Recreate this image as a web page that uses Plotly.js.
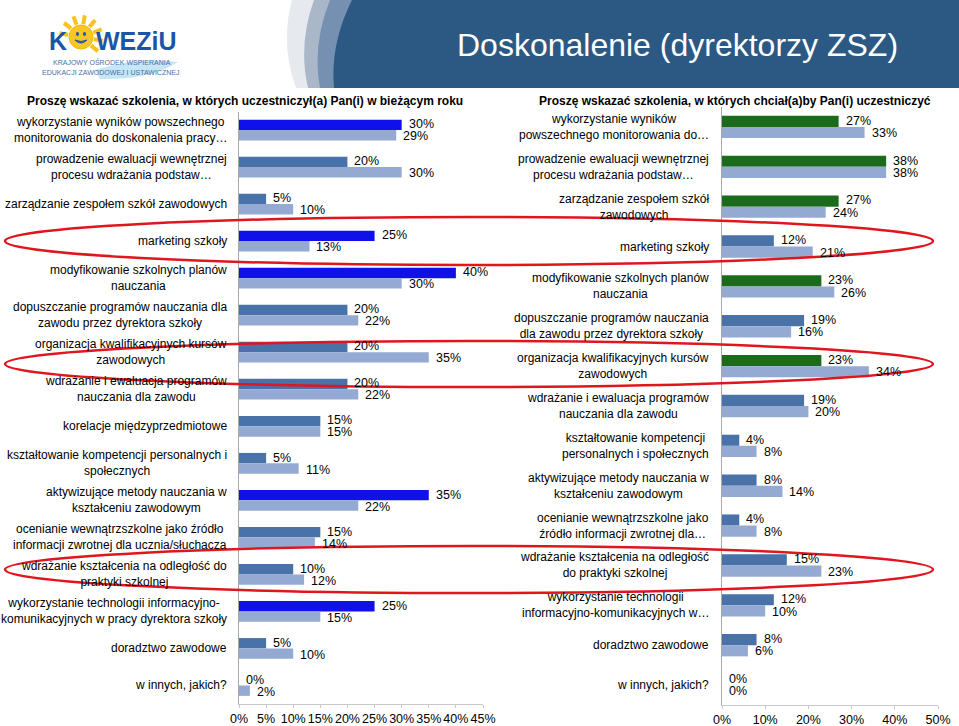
<!DOCTYPE html>
<html>
<head>
<meta charset="utf-8">
<script src="https://cdn.plot.ly/plotly-3.0.1.min.js"></script>
<style>
  html, body { margin: 0; padding: 0; background: #ffffff; }
  #chart { width: 959px; height: 726px; }
</style>
</head>
<body>
<div id="chart"></div>
<script>
// ---------- DATA ----------
const leftLabels = [
  "wykorzystanie wyników powszechnego<br>monitorowania do doskonalenia pracy…",
  "prowadzenie ewaluacji wewnętrznej<br>procesu wdrażania podstaw…",
  "zarządzanie zespołem szkół zawodowych",
  "marketing szkoły",
  "modyfikowanie szkolnych planów<br>nauczania",
  "dopuszczanie programów nauczania dla<br>zawodu przez dyrektora szkoły",
  "organizacja kwalifikacyjnych kursów<br>zawodowych",
  "wdrażanie i ewaluacja programów<br>nauczania dla zawodu",
  "korelacje międzyprzedmiotowe",
  "kształtowanie kompetencji personalnych i<br>społecznych",
  "aktywizujące metody nauczania w<br>kształceniu zawodowym",
  "ocenianie wewnątrzszkolne jako źródło<br>informacji zwrotnej dla ucznia/słuchacza",
  "wdrażanie kształcenia na odległość do<br>praktyki szkolnej",
  "wykorzystanie technologii informacyjno-<br>komunikacyjnych w pracy dyrektora szkoły",
  "doradztwo zawodowe",
  "w innych, jakich?"
];
const leftZSZ   = [30, 20, 5, 25, 40, 20, 20, 20, 15, 5, 35, 15, 10, 25, 5, 0];
const leftAll   = [29, 30, 10, 13, 30, 22, 35, 22, 15, 11, 22, 14, 12, 15, 10, 2];

const rightLabels = [
  "wykorzystanie wyników<br>powszechnego monitorowania do…",
  "prowadzenie ewaluacji wewnętrznej<br>procesu wdrażania podstaw…",
  "zarządzanie zespołem szkół<br>zawodowych",
  "marketing szkoły",
  "modyfikowanie szkolnych planów<br>nauczania",
  "dopuszczanie programów nauczania<br>dla zawodu przez dyrektora szkoły",
  "organizacja kwalifikacyjnych kursów<br>zawodowych",
  "wdrażanie i ewaluacja programów<br>nauczania dla zawodu",
  "kształtowanie kompetencji<br>personalnych i społecznych",
  "aktywizujące metody nauczania w<br>kształceniu zawodowym",
  "ocenianie wewnątrzszkolne jako<br>źródło informacji zwrotnej dla…",
  "wdrażanie kształcenia na odległość<br>do praktyki szkolnej",
  "wykorzystanie technologii<br>informacyjno-komunikacyjnych w…",
  "doradztwo zawodowe",
  "w innych, jakich?"
];
const rightZSZ  = [27, 38, 27, 12, 23, 19, 23, 19, 4, 8, 4, 15, 12, 8, 0];
const rightAll  = [33, 38, 24, 21, 26, 16, 34, 20, 8, 14, 8, 23, 10, 6, 0];

const leftTitle  = "Proszę wskazać szkolenia, w których uczestniczył(a) Pan(i) w bieżącym roku";
const rightTitle = "Proszę wskazać szkolenia, w których chciał(a)by Pan(i) uczestniczyć";
const mainTitle  = "Doskonalenie (dyrektorzy ZSZ)";

// ---------- STYLE ----------
const BRIGHT = "#1010EA", STEEL = "#4872A8", LIGHT = "#95AAD3", GREEN = "#1C6B1C";
const leftHighlight  = [1,0,0,1,1,0,0,0,0,0,1,0,0,1,0,0];
const rightHighlight = [1,1,1,0,1,0,1,0,0,0,0,0,0,0,0];
const W = 959, H = 726;
const px = x => x / W;
const py = y => 1 - y / H;
const FONT = "Arial, 'Liberation Sans', sans-serif";

const leftCats  = leftLabels.map(s => s.replace("<br>", " "));
const rightCats = rightLabels.map(s => s.replace("<br>", " "));

function barTrace(x, y, colors, xa, ya, name) {
  return {
    type: "bar", orientation: "h", x: x, y: y, name: name,
    xaxis: xa, yaxis: ya,
    marker: { color: colors, line: { width: 0 } },
    hoverinfo: "skip"
  };
}

const traces = [
  barTrace(leftZSZ, leftCats, leftHighlight.map(h => h ? BRIGHT : STEEL), "x", "y", "dyrektorzy ZSZ"),
  barTrace(leftAll, leftCats, leftAll.map(() => LIGHT), "x", "y", "ogółem"),
  barTrace(rightZSZ, rightCats, rightHighlight.map(h => h ? GREEN : STEEL), "x2", "y2", "dyrektorzy ZSZ"),
  barTrace(rightAll, rightCats, rightAll.map(() => LIGHT), "x2", "y2", "ogółem")
];

const xCommon = {
  showgrid: false, zeroline: false, showline: true, linecolor: "#C8C8C8", linewidth: 1,
  ticks: "outside", ticklen: 3, tickcolor: "#C8C8C8", ticksuffix: "%",
  tickfont: { family: FONT, size: 12.5, color: "#000" }, fixedrange: true
};
const yCommon = {
  type: "category", autorange: "reversed", showgrid: false, zeroline: false,
  showline: true, linecolor: "#A8A8A8", linewidth: 1, ticks: "", showticklabels: false,
  fixedrange: true
};

const annotations = [];
// category labels (centred multi-line, right-aligned to the axis)
leftLabels.forEach((t, i) => annotations.push({
  xref: "x domain", yref: "y", x: 0, y: leftCats[i], xanchor: "right", yanchor: "middle",
  xshift: -10, text: t, align: "center", showarrow: false,
  font: { family: FONT, size: 12, color: "#000" }
}));
rightLabels.forEach((t, i) => annotations.push({
  xref: "x2 domain", yref: "y2", x: 0, y: rightCats[i], xanchor: "right", yanchor: "middle",
  xshift: -11, text: t, align: "center", showarrow: false,
  font: { family: FONT, size: 12, color: "#000" }
}));
// value labels at the bar ends
function valueLabels(vals, cats, xa, ya, dy) {
  vals.forEach((v, i) => annotations.push({
    xref: xa, yref: ya, x: v, y: cats[i], xanchor: "left", yanchor: "middle",
    xshift: 6, yshift: dy, text: v + "%", showarrow: false, borderpad: 0,
    font: { family: FONT, size: 12.5, color: "#000" }
  }));
}
valueLabels(leftZSZ, leftCats, "x", "y", 5.8);
valueLabels(leftAll, leftCats, "x", "y", -6.2);
valueLabels(rightZSZ, rightCats, "x2", "y2", 6.2);
valueLabels(rightAll, rightCats, "x2", "y2", -6.2);

// subtitles
annotations.push({ xref: "paper", yref: "paper", x: px(245), y: py(101), text: "<b>" + leftTitle + "</b>",
  showarrow: false, xanchor: "center", yanchor: "middle", font: { family: FONT, size: 12, color: "#000" } });
annotations.push({ xref: "paper", yref: "paper", x: px(735), y: py(101), text: "<b>" + rightTitle + "</b>",
  showarrow: false, xanchor: "center", yanchor: "middle", font: { family: FONT, size: 12, color: "#000" } });
// banner title
annotations.push({ xref: "paper", yref: "paper", x: px(677), y: py(45), text: mainTitle,
  showarrow: false, xanchor: "center", yanchor: "middle", font: { family: FONT, size: 32, color: "#ffffff" } });
// logo text
annotations.push({ xref: "paper", yref: "paper", x: px(58), y: py(41), text: "<b>K</b>",
  showarrow: false, xanchor: "center", yanchor: "middle", font: { family: FONT, size: 25, color: "#1B56A6" } });
annotations.push({ xref: "paper", yref: "paper", x: px(136), y: py(41), text: "<b>WEZiU</b>",
  showarrow: false, xanchor: "center", yanchor: "middle", font: { family: FONT, size: 25, color: "#1B56A6" } });
annotations.push({ xref: "paper", yref: "paper", x: px(112), y: py(62), text: "KRAJOWY OŚRODEK WSPIERANIA",
  showarrow: false, xanchor: "center", yanchor: "middle", font: { family: FONT, size: 7, color: "#4A6FA8" } });
annotations.push({ xref: "paper", yref: "paper", x: px(110), y: py(72), text: "EDUKACJI ZAWODOWEJ I USTAWICZNEJ",
  showarrow: false, xanchor: "center", yanchor: "middle", font: { family: FONT, size: 7, color: "#4A6FA8" } });

// shapes (decor)
function p(points) {
  return points.map(seg => {
    const L = seg[0]; const nums = seg.slice(1);
    const out = [];
    for (let k = 0; k < nums.length; k += 2) out.push(px(nums[k]).toFixed(5) + "," + py(nums[k + 1]).toFixed(5));
    return L + out.join(" ");
  }).join(" ") + " Z";
}
const shapes = [];
const bands = [
  ["#E6E9EE", 292, 280, 296],
  ["#A9B7C8", 314, 298, 308],
  ["#7590B0", 330, 312, 320],
  ["#2B5984", 352, 330, 334]
];
bands.forEach(b => shapes.push({
  type: "path", xref: "paper", yref: "paper", layer: "below",
  path: p([["M", b[1], 0], ["Q", b[2], 44, b[3], 88], ["L", 959, 88], ["L", 959, 0]]),
  fillcolor: b[0], line: { width: 0 }
}));
// logo swoosh
shapes.push({ type: "path", xref: "paper", yref: "paper", layer: "below",
  path: p([["M", 95, 70], ["Q", 140, 56, 178, 62], ["Q", 150, 80, 100, 79]]),
  fillcolor: "#C5E6F4", line: { width: 0 } });
// sun rays
for (let a = -170; a <= 40; a += 30) {
  const r = a * Math.PI / 180;
  shapes.push({ type: "line", xref: "paper", yref: "paper",
    x0: px(81 + 13 * Math.cos(r)), y0: py(37 + 13 * Math.sin(r)),
    x1: px(81 + 22 * Math.cos(r)), y1: py(37 + 22 * Math.sin(r)),
    line: { color: "#F7C21C", width: 4 } });
}
shapes.push({ type: "circle", xref: "paper", yref: "paper",
  x0: px(69), x1: px(93), y0: py(49), y1: py(25), fillcolor: "#F9C623", line: { color: "#F2B705", width: 1 } });
shapes.push({ type: "circle", xref: "paper", yref: "paper",
  x0: px(76), x1: px(79), y0: py(36), y1: py(32), fillcolor: "#1B56A6", line: { width: 0 } });
shapes.push({ type: "circle", xref: "paper", yref: "paper",
  x0: px(83), x1: px(86), y0: py(36), y1: py(32), fillcolor: "#1B56A6", line: { width: 0 } });
shapes.push({ type: "path", xref: "paper", yref: "paper",
  path: p([["M", 75, 40], ["Q", 81, 46, 87, 40], ["Q", 81, 43, 75, 40]]),
  fillcolor: "#1B56A6", line: { color: "#1B56A6", width: 1 } });
// red ellipses
[[217, 265], [341, 387], [546, 593]].forEach(e => shapes.push({
  type: "circle", xref: "paper", yref: "paper", layer: "above",
  x0: px(5), x1: px(933), y0: py(e[1]), y1: py(e[0]),
  line: { color: "#E0161E", width: 2.5 }, fillcolor: "rgba(0,0,0,0)"
}));

const layout = {
  width: W, height: H, margin: { l: 0, r: 0, t: 0, b: 0 },
  paper_bgcolor: "#ffffff", plot_bgcolor: "rgba(0,0,0,0)",
  showlegend: false, barmode: "group", bargap: 0.44, bargroupgap: 0,
  font: { family: FONT, color: "#000" },
  xaxis:  Object.assign({}, xCommon, { domain: [px(239), px(483)], range: [0, 45], dtick: 5, anchor: "y" }),
  yaxis:  Object.assign({}, yCommon, { domain: [py(704), py(111.5)], anchor: "x" }),
  xaxis2: Object.assign({}, xCommon, { domain: [px(722), px(938)], range: [0, 50], dtick: 10, anchor: "y2" }),
  yaxis2: Object.assign({}, yCommon, { domain: [py(705), py(107)], anchor: "x2" }),
  annotations: annotations, shapes: shapes, hovermode: false
};

Plotly.newPlot("chart", traces, layout, { staticPlot: true, displayModeBar: false });
</script>
</body>
</html>
